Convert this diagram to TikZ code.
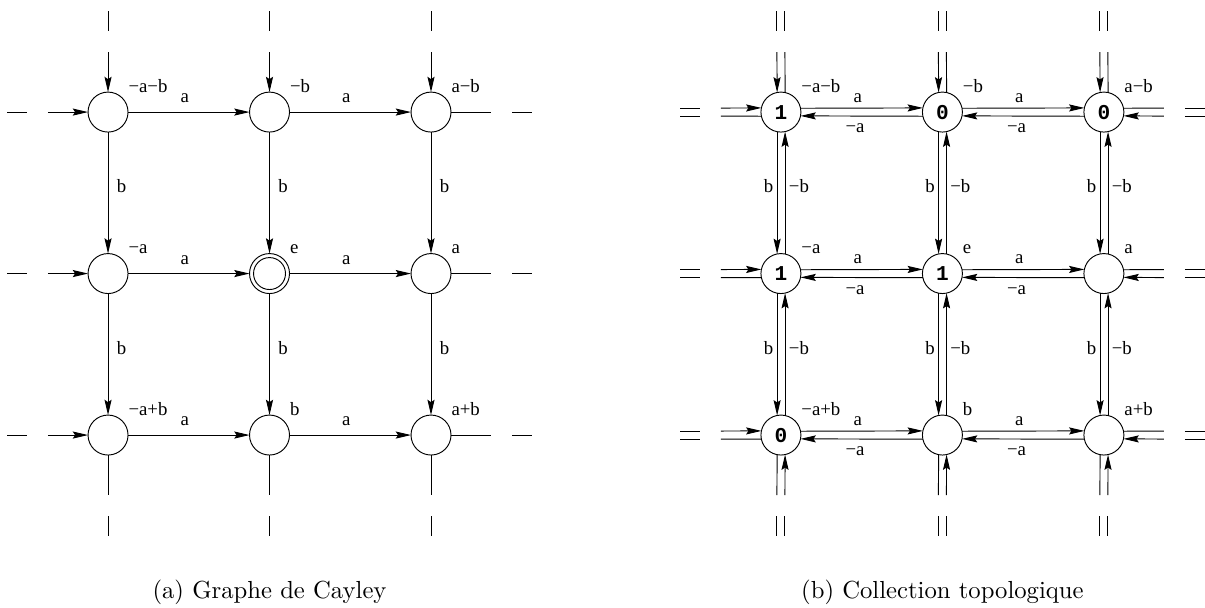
\documentclass[tikz,border=0pt]{standalone}
\usepackage{fontspec}
\usepackage{tikz}
\usetikzlibrary{arrows.meta}
\newfontfamily\figfont{Liberation Serif}
\newfontfamily\valfont{Liberation Mono}

\tikzset{
  >={Stealth[length=6.5pt,width=3pt,inset=1pt]},
  elt/.style={circle,draw,inner sep=0pt,outer sep=0pt,minimum size=0.598cm,
    font=\valfont\bfseries\fontsize{9}{9}\selectfont},
  lab/.style={inner sep=0pt,font=\figfont\fontsize{8}{9}\selectfont},
  vlab/.style={lab,anchor=base west},
  caption/.style={anchor=base,font=\fontsize{10.5}{12}\selectfont},
}

\begin{document}
\begin{tikzpicture}[x=2.415cm,y=2.415cm]
\useasboundingbox (-0.669,-3.065) rectangle (6.793,0.694);

% (a) graphe de Cayley
\node[elt] (G00) at (0,0) {};
\node[elt] (G10) at (1,0) {};
\node[elt] (G20) at (2,0) {};
\node[elt] (G01) at (0,-1) {};
\node[elt] (G11) at (1,-1) {};
\node[elt] (G21) at (2,-1) {};
\node[elt] (G02) at (0,-2) {};
\node[elt] (G12) at (1,-2) {};
\node[elt] (G22) at (2,-2) {};
\draw (G11) circle (0.239cm);

\foreach \c/\i/\t in {0/0/−a−b,1/0/−b,2/0/a−b,0/1/−a,1/1/e,2/1/a,0/2/−a+b,1/2/b,2/2/a+b}
  \node[vlab] at (\c+0.124,-\i+0.124) {\t};

\foreach \i in {0,1,2} \foreach \c/\d in {0/1,1/2}
  \draw[->] (G\c\i) -- node[lab,above=0.127cm,xshift=-0.06cm] {a} (G\d\i);
\foreach \c in {0,1,2} \foreach \i/\j in {0/1,1/2}
  \draw[->] (G\c\i) -- node[lab,anchor=base west,xshift=0.125cm] {b} (G\c\j);

\foreach \i in {0,1,2} {
  \coordinate (gw\i) at (-0.372,-\i);
  \coordinate (ge\i) at (2.372,-\i);
  \draw[->] (gw\i) -- (G0\i);
  \draw (G2\i) -- (ge\i);
  \draw (-0.625,-\i) -- (-0.502,-\i) (2.502,-\i) -- (2.625,-\i);
}
\foreach \c in {0,1,2} {
  \coordinate (gn\c) at (\c,0.372);
  \coordinate (gs\c) at (\c,-2.372);
  \draw[->] (gn\c) -- (G\c0);
  \draw (G\c2) -- (gs\c);
  \draw (\c,0.625) -- (\c,0.502) (\c,-2.502) -- (\c,-2.625);
}

\node[caption] (capa) at (1,-3.01) {(a) Graphe de Cayley};

% (b) collection topologique
\begin{scope}[xshift=10.063cm]
\node[elt] (T00) at (0,0) {1};
\node[elt] (T10) at (1,0) {0};
\node[elt] (T20) at (2,0) {0};
\node[elt] (T01) at (0,-1) {1};
\node[elt] (T11) at (1,-1) {1};
\node[elt] (T21) at (2,-1) {};
\node[elt] (T02) at (0,-2) {0};
\node[elt] (T12) at (1,-2) {};
\node[elt] (T22) at (2,-2) {};

\foreach \c/\i/\t in {0/0/−a−b,1/0/−b,2/0/a−b,0/1/−a,1/1/e,2/1/a,0/2/−a+b,1/2/b,2/2/a+b}
  \node[vlab] at (\c+0.124,-\i+0.124) {\t};

\foreach \i in {0,1,2} \foreach \c/\d in {0/1,1/2} {
  \draw[->] (T\c\i.11.5) -- node[lab,above=0.075cm,xshift=-0.06cm] {a} (T\d\i.168.5);
  \draw[->] (T\d\i.-168.5) -- node[lab,below=0.11cm,xshift=-0.1cm] {−a} (T\c\i.-11.5);
}
\foreach \c in {0,1,2} \foreach \i/\j in {0/1,1/2} {
  \draw[->] (T\c\i.-101.5) -- node[lab,anchor=base east,xshift=-0.05cm] {b} (T\c\j.101.5);
  \draw[->] (T\c\j.78.5) -- node[lab,anchor=base west,xshift=0.05cm] {−b} (T\c\i.-78.5);
}

\foreach \i in {0,1,2} {
  \coordinate (tw\i) at (-0.372,-\i);
  \coordinate (te\i) at (2.372,-\i);
  \draw[->] ([yshift=0.06cm]tw\i) -- (T0\i.168.5);
  \draw (T0\i.-168.5) -- ([yshift=-0.06cm]tw\i);
  \draw (T2\i.11.5) -- ([yshift=0.06cm]te\i);
  \draw[->] ([yshift=-0.06cm]te\i) -- (T2\i.-11.5);
  \draw (-0.625,-\i+0.0248) -- (-0.502,-\i+0.0248) (-0.625,-\i-0.0248) -- (-0.502,-\i-0.0248)
        (2.502,-\i+0.0248) -- (2.625,-\i+0.0248) (2.502,-\i-0.0248) -- (2.625,-\i-0.0248);
}
\foreach \c in {0,1,2} {
  \coordinate (tn\c) at (\c,0.372);
  \coordinate (ts\c) at (\c,-2.372);
  \draw[->] ([xshift=-0.06cm]tn\c) -- (T\c0.101.5);
  \draw (T\c0.78.5) -- ([xshift=0.06cm]tn\c);
  \draw (T\c2.-101.5) -- ([xshift=-0.06cm]ts\c);
  \draw[->] ([xshift=0.06cm]ts\c) -- (T\c2.-78.5);
  \draw (\c-0.0248,0.625) -- (\c-0.0248,0.502) (\c+0.0248,0.625) -- (\c+0.0248,0.502)
        (\c-0.0248,-2.502) -- (\c-0.0248,-2.625) (\c+0.0248,-2.502) -- (\c+0.0248,-2.625);
}

\node[caption] (capb) at (1,-3.01) {(b) Collection topologique};
\end{scope}

\end{tikzpicture}
\end{document}
